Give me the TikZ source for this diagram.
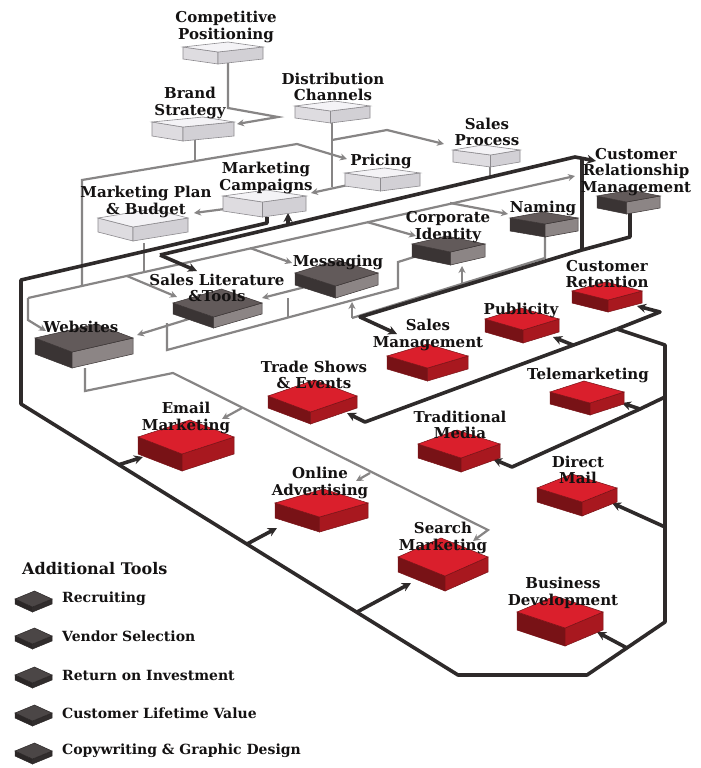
\documentclass[tikz,border=0pt]{standalone}
\usepackage{fontspec}
\setmainfont{DejaVu Serif}
\usetikzlibrary{arrows.meta}

\definecolor{RedTop}{HTML}{DA1F2C}
\definecolor{RedLeft}{HTML}{781216}
\definecolor{RedRight}{HTML}{A8181F}
\definecolor{DarkTop}{HTML}{625A5A}
\definecolor{DarkLeft}{HTML}{3A3434}
\definecolor{DarkRight}{HTML}{8C8585}
\definecolor{LiteTop}{HTML}{F4F3F6}
\definecolor{LiteLeft}{HTML}{DEDCE0}
\definecolor{LiteRight}{HTML}{D2D0D5}
\definecolor{LiteEdge}{HTML}{8C8A8E}
\definecolor{ToolTop}{HTML}{4B4646}
\definecolor{ToolSide}{HTML}{2B2727}
\definecolor{LineGray}{HTML}{878585}
\definecolor{LineDark}{HTML}{2E2A2A}
\definecolor{TextInk}{HTML}{141212}

\tikzset{
  lbl/.style={font=\fontsize{15}{16.5}\selectfont\bfseries, text=TextInk, align=center, inner sep=0pt},
  leg/.style={font=\fontsize{14}{16}\selectfont\bfseries, text=TextInk, inner sep=0pt, anchor=west},
  gline/.style={draw=LineGray, line width=2.2pt},
  garrow/.style={gline, -{Stealth[length=7pt,width=7pt]}},
  kline/.style={draw=LineDark, line width=3.6pt, line join=round},
  karrow/.style={kline, -{Stealth[length=9pt,width=9pt]}},
  lite top/.style={fill=LiteTop, draw=LiteEdge, line width=0.6pt},
  lite left/.style={fill=LiteLeft, draw=LiteEdge, line width=0.6pt},
  lite right/.style={fill=LiteRight, draw=LiteEdge, line width=0.6pt},
  dark top/.style={fill=DarkTop, draw=DarkLeft, line width=0.5pt},
  dark left/.style={fill=DarkLeft, draw=DarkLeft, line width=0.5pt},
  dark right/.style={fill=DarkRight, draw=DarkLeft, line width=0.5pt},
  redb top/.style={fill=RedTop, draw=RedLeft, line width=0.5pt},
  redb left/.style={fill=RedLeft, draw=RedLeft, line width=0.5pt},
  redb right/.style={fill=RedRight, draw=RedLeft, line width=0.5pt},
  tool top/.style={fill=ToolTop, draw=ToolSide, line width=0.5pt},
  tool left/.style={fill=ToolSide, draw=ToolSide, line width=0.5pt},
  tool right/.style={fill=ToolSide!80!ToolTop, draw=ToolSide, line width=0.5pt},
}

% slab: name, left x, right x, mid y, half depth, skew, thickness, kind
\newcommand{\slab}[8]{%
  \pgfmathsetmacro{\sxm}{(#2+#3)/2}%
  \pgfmathsetmacro{\sxt}{\sxm+(#6)}%
  \pgfmathsetmacro{\sxb}{\sxm-(#6)}%
  \coordinate (#1-L) at (#2,#4);
  \coordinate (#1-R) at (#3,#4);
  \coordinate (#1-T) at (\sxt,#4-#5);
  \coordinate (#1-B) at (\sxb,#4+#5);
  \coordinate (#1-F) at (\sxb,#4+#5+#7);
  \coordinate (#1) at (\sxm,#4);
  \path[#8 left] (#1-L) -- (#1-B) -- (#1-F) -- (#2,#4+#7) -- cycle;
  \path[#8 right] (#1-B) -- (#1-R) -- (#3,#4+#7) -- (#1-F) -- cycle;
  \path[#8 top] (#1-L) -- (#1-T) -- (#1-R) -- (#1-B) -- cycle;
}

\begin{document}
\begin{tikzpicture}[x=1pt, y=-1pt]
\fill[white] (0,0) rectangle (701,768);
\useasboundingbox (0,0) rectangle (701,768);

% junctions of the gray links
\foreach \n/\x/\y in {cpo/228/62, cpa/228/108, cpb/278/117, bsi/237/124,
    bso/195/140, bsa/195/161, la0/82/180, la1/297/144, pri/347/159,
    lb0/82/286, lbw/28/298, lbe/575/176, lbd/28/320, wsi/46/331,
    lbs/127/276, sli/177/297, mpo/144/243, mpa/144/272,
    lbm/250/248, mei/292/263, lbc/367/222, cii/416/236, lbn/450/203, nai/508/214,
    dco/332/122, dca/332/187, dcb/332/140, dcc/387/130, spi/444/144,
    pro/362/182, mci/311/193, mco/240/207, mpi/194/213,
    meo/313/285, sli2/262/298, slo/192/318, wsi2/137/335,
    wso/85/368, wsa/85/391, wsb/173/373, wsc/488/530, sei/473/541,
    wse/242/408, emi/222/419, wsd/370/473, oai/356/481,
    cio/430/252, lc1/398/262, lc2/398/288, lc3/167/350, slb/167/323,
    meb/288/298, lc4/288/318,
    nao/545/237, ld1/545/258, ld2/352/318, ld3/462/284, cib/462/266, mei2/352/302,
    spo/490/167, spa/490/178}
  \coordinate (\n) at (\x,\y);

% junctions of the dark links
\foreach \n/\x/\y in {mcb/267/217, k1/267/223, k2/21/280, k3/21/404, k4/458/675,
    k5/587/675, k6/665/622, k7/665/345, k8/617/329, k9/660/312, cri/637/306,
    k10/365/422, tsi/347/413, k11/573/345, pui/553/337,
    k12/665/397, k13/640/409, k14/512/467, tri/493/459, tmi/622/403,
    k15/665/527, dmi/612/503, k16/627/648, bdi/597/632,
    k17/118/465, emb/143/457, k18/247/544, oab/277/528, k19/357/612, seb/411/583,
    le0/160/255, sll/197/271, le1/575/157, crma/596/161,
    k20/288/225, mcu/288/213,
    crmo/630/212, k21/630/237, k22/582/250, k23/582/157, k24/360/317, smi/397/334}
  \coordinate (\n) at (\x,\y);

% gray links
\draw[garrow] (cpo) -- (cpa) -- (cpb) -- (bsi);
\draw[gline] (bso) -- (bsa);
\draw[garrow] (lb0) -- (la0) -- (la1) -- (pri);
\draw[garrow] (lbw) -- (lbe);
\draw[garrow] (lbw) -- (lbd) -- (wsi);
\draw[garrow] (lbs) -- (sli);
\draw[gline] (mpo) -- (mpa);
\draw[garrow] (lbm) -- (mei);
\draw[garrow] (lbc) -- (cii);
\draw[garrow] (lbn) -- (nai);
\draw[gline] (dco) -- (dca);
\draw[garrow] (dcb) -- (dcc) -- (spi);
\draw[garrow] (pro) -- (mci);
\draw[garrow] (mco) -- (mpi);
\draw[garrow] (meo) -- (sli2);
\draw[garrow] (slo) -- (wsi2);
\draw[garrow] (wso) -- (wsa) -- (wsb) -- (wsc) -- (sei);
\draw[garrow] (wse) -- (emi);
\draw[garrow] (wsd) -- (oai);
\draw[gline] (cio) -- (lc1) -- (lc2) -- (lc3) -- (slb);
\draw[gline] (meb) -- (lc4);
\draw[gline] (nao) -- (ld1) -- (ld2);
\draw[garrow] (ld3) -- (cib);
\draw[garrow] (ld2) -- (mei2);
\draw[gline] (spo) -- (spa);

% dark links
\draw[kline] (mcb) -- (k1) -- (k2) -- (k3) -- (k4) -- (k5) -- (k6) -- (k7) -- (k8);
\draw[karrow] (k8) -- (k9) -- (cri);
\draw[karrow] (k8) -- (k10) -- (tsi);
\draw[karrow] (k11) -- (pui);
\draw[karrow] (k12) -- (k13) -- (k14) -- (tri);
\draw[karrow] (k13) -- (tmi);
\draw[karrow] (k15) -- (dmi);
\draw[karrow] (k16) -- (bdi);
\draw[karrow] (k17) -- (emb);
\draw[karrow] (k18) -- (oab);
\draw[karrow] (k19) -- (seb);
\draw[karrow] (le0) -- (sll);
\draw[karrow] (le0) -- (le1) -- (crma);
\draw[karrow] (k20) -- (mcu);
\draw[kline] (crmo) -- (k21) -- (k22) -- (k23);
\draw[karrow] (k22) -- (k24) -- (smi);

% boxes
\slab{cp}{183}{263}{47}{5}{5}{12}{lite}
\slab{bs}{152}{234}{122}{5}{10}{14}{lite}
\slab{dc}{295}{370}{106}{5}{2}{12}{lite}
\slab{sp}{453}{520}{150}{5}{-4}{12}{lite}
\slab{pr}{345}{420}{173}{5}{2}{13}{lite}
\slab{mc}{223}{306}{196}{6}{2}{15}{lite}
\slab{mp}{98}{188}{218}{9}{10}{14}{lite}
\slab{crm}{597}{660}{196}{6}{2}{12}{dark}
\slab{na}{510}{578}{218}{6}{-1}{13}{dark}
\slab{ci}{412}{485}{244}{8}{-2}{13}{dark}
\slab{me}{295}{378}{273}{13}{1}{12}{dark}
\slab{sl}{173}{262}{303}{14}{4}{11}{dark}
\slab{ws}{35}{133}{338}{14}{12}{16}{dark}
\slab{cr}{572}{642}{291}{9}{-1}{12}{redb}
\slab{pu}{485}{559}{319}{11}{-1}{13}{redb}
\slab{sm}{387}{468}{356}{12}{0}{13}{redb}
\slab{tm}{550}{624}{392}{11}{-3}{12}{redb}
\slab{ts}{268}{357}{396}{16}{2}{12}{redb}
\slab{tr}{418}{500}{444}{14}{-2}{14}{redb}
\slab{em}{138}{234}{437}{17}{4}{17}{redb}
\slab{dm}{537}{617}{488}{14}{-5}{14}{redb}
\slab{oa}{275}{368}{503}{14}{2}{15}{redb}
\slab{se}{398}{488}{557}{19}{-2}{15}{redb}
\slab{bd}{517}{603}{612}{16}{-5}{18}{redb}

% labels
\node[lbl] (cp-t) at (226,27) {Competitive\\Positioning};
\node[lbl] (bs-t) at (190,103) {Brand\\Strategy};
\node[lbl] (dc-t) at (333,87) {Distribution\\Channels};
\node[lbl] (sp-t) at (487,132) {Sales\\Process};
\node[lbl] (pr-t) at (381,161) {Pricing};
\node[lbl] (mc-t) at (266,178) {Marketing\\Campaigns};
\node[lbl] (mp-t) at (146,202) {Marketing Plan\\\& Budget};
\node[lbl] (crm-t) at (636,172) {Customer\\Relationship\\Management};
\node[lbl] (na-t) at (543,208) {Naming};
\node[lbl] (ci-t) at (448,227) {Corporate\\Identity};
\node[lbl] (me-t) at (338,262) {Messaging};
\node[lbl] (sl-t) at (217,288) {Sales Literature\\\&Tools};
\node[lbl] (ws-t) at (81,327) {Websites};
\node[lbl] (cr-t) at (607,274) {Customer\\Retention};
\node[lbl] (pu-t) at (521,310) {Publicity};
\node[lbl] (sm-t) at (428,335) {Sales\\Management};
\node[lbl] (tm-t) at (588,375) {Telemarketing};
\node[lbl] (ts-t) at (314,375) {Trade Shows\\\& Events};
\node[lbl] (tr-t) at (460,425) {Traditional\\Media};
\node[lbl] (em-t) at (186,418) {Email\\Marketing};
\node[lbl] (dm-t) at (578,470) {Direct\\Mail};
\node[lbl] (oa-t) at (320,483) {Online\\Advertising};
\node[lbl] (se-t) at (443,538) {Search\\Marketing};
\node[lbl] (bd-t) at (563,593) {Business\\Development};

% legend
\node[leg, font=\fontsize{16}{18}\selectfont\bfseries] (addtools) at (22,569) {Additional Tools};
\foreach \y/\t [count=\i] in {599/Recruiting, 636/Vendor Selection, 675/Return on Investment,
    713/Customer Lifetime Value, 751/Copywriting \& Graphic Design} {
  \slab{tool\i}{15}{52}{\y}{8}{1}{5}{tool}
  \node[leg] (tool\i-t) at (62,\y) {\t};
}
\end{tikzpicture}
\end{document}
